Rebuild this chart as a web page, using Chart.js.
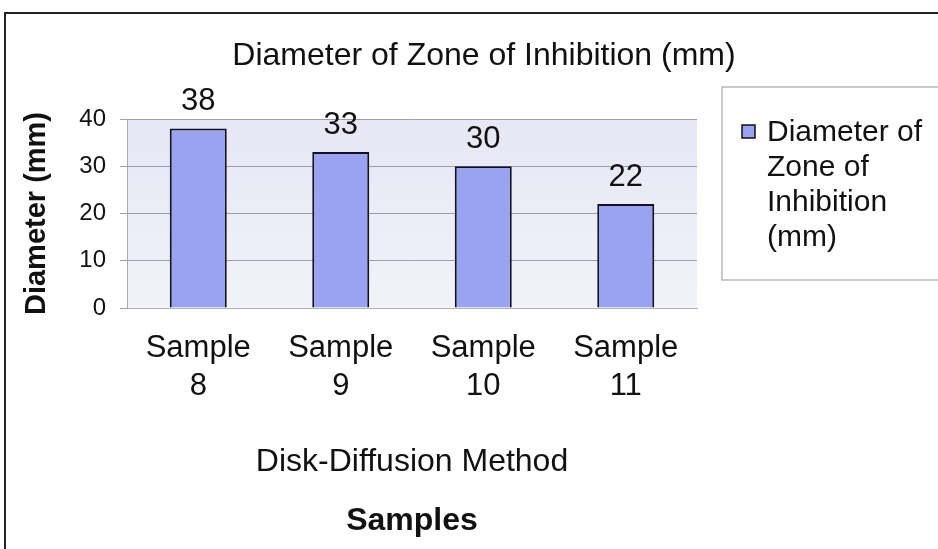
<!DOCTYPE html>
<html>
<head>
<meta charset="utf-8">
<script src="https://cdn.jsdelivr.net/npm/chart.js@4.4.1/dist/chart.umd.min.js"></script>
<style>
html,body{margin:0;padding:0;background:#fff;}
#wrap{width:938px;height:549px;position:relative;}
</style>
</head>
<body>
<div id="wrap"><canvas id="c" width="938" height="549"></canvas></div>
<script>
const categories = [['Sample', '8'], ['Sample', '9'], ['Sample', '10'], ['Sample', '11']];
const values = [38, 33, 30, 22];
const seriesName = 'Diameter of Zone of Inhibition (mm)';
const legendLines = ['Diameter of', 'Zone of', 'Inhibition', '(mm)'];
const chartTitle = 'Diameter of Zone of Inhibition (mm)';
const xTitle = 'Disk-Diffusion Method';
const xTitle2 = 'Samples';
const yTitle = 'Diameter (mm)';
const yTicks = [0, 10, 20, 30, 40];

const FONT = "'Liberation Sans', Arial, sans-serif";

const decor = {
  id: 'decor',
  beforeDraw(chart) {
    const {ctx, chartArea: a} = chart;
    ctx.save();
    const g = ctx.createLinearGradient(0, a.top, 0, a.bottom);
    g.addColorStop(0, '#e7e7f5');
    g.addColorStop(1, '#f2f2f9');
    ctx.fillStyle = g;
    ctx.fillRect(a.left, a.top, a.right - a.left, a.bottom - a.top);
    ctx.restore();
  },
  afterDraw(chart) {
    const {ctx} = chart;
    ctx.save();
    // outer frame
    ctx.strokeStyle = '#222';
    ctx.lineWidth = 2;
    ctx.beginPath();
    ctx.moveTo(938, 13); ctx.lineTo(5, 13); ctx.lineTo(5, 549);
    ctx.stroke();
    // title
    ctx.fillStyle = '#111';
    ctx.font = '32px ' + FONT;
    ctx.textAlign = 'center';
    ctx.textBaseline = 'middle';
    ctx.fillText(chartTitle, 484, 56);
    // legend box
    ctx.strokeStyle = '#b8b8b8';
    ctx.lineWidth = 1.5;
    ctx.beginPath();
    ctx.moveTo(940, 87); ctx.lineTo(722, 87); ctx.lineTo(722, 280); ctx.lineTo(940, 280);
    ctx.stroke();
    const ds = chart.data.datasets[0];
    ctx.fillStyle = ds.backgroundColor;
    ctx.fillRect(742, 125, 13, 13);
    ctx.strokeStyle = '#111';
    ctx.lineWidth = 1.5;
    ctx.strokeRect(742, 125, 13, 13);
    ctx.fillStyle = '#111';
    ctx.font = '30px ' + FONT;
    ctx.textAlign = 'left';
    legendLines.forEach((t, i) => ctx.fillText(t, 767, 133 + i * 35));
    // data labels
    const meta = chart.getDatasetMeta(0);
    ctx.font = '31px ' + FONT;
    ctx.textAlign = 'center';
    meta.data.forEach((bar, i) => {
      ctx.fillText(String(ds.data[i]), bar.x, bar.y - 27);
    });
    ctx.restore();
  }
};

new Chart(document.getElementById('c'), {
  type: 'bar',
  data: {
    labels: categories,
    datasets: [{
      label: seriesName,
      data: values,
      backgroundColor: '#99a3ef',
      borderColor: '#111122',
      borderWidth: 2,
      categoryPercentage: 1,
      barPercentage: 0.4
    }]
  },
  options: {
    responsive: false,
    animation: false,
    devicePixelRatio: 1,
    layout: {padding: {left: 0, right: 241, top: 119, bottom: 0}},
    plugins: {
      legend: {display: false},
      tooltip: {enabled: false},
      title: {display: false},
      subtitle: {
        display: true,
        text: xTitle2,
        position: 'bottom',
        fullSize: false,
        color: '#111',
        font: {family: FONT, size: 32, weight: 'bold', lineHeight: 1.2},
        padding: {top: 0, bottom: 9}
      }
    },
    scales: {
      x: {
        grid: {display: false},
        border: {display: true, color: '#b0b0bc', width: 1},
        ticks: {
          color: '#111',
          font: {family: FONT, size: 31, lineHeight: 1.22},
          padding: 14,
          maxRotation: 0,
          autoSkip: false
        },
        title: {
          display: true,
          text: xTitle,
          color: '#111',
          font: {family: FONT, size: 32, lineHeight: 1.2},
          padding: {top: 0, bottom: 20}
        },
        afterFit(s) { s.height = 193.6; }
      },
      y: {
        min: 0,
        max: 40,
        afterBuildTicks(s) { s.ticks = yTicks.map(v => ({value: v})); },
        grid: {color: '#9c9cab', lineWidth: 1, tickLength: 7, drawTicks: true},
        border: {display: true, color: '#a8a8b8', width: 1},
        ticks: {
          color: '#111',
          font: {family: FONT, size: 24},
          padding: 14
        },
        title: {
          display: true,
          text: yTitle,
          color: '#111',
          font: {family: FONT, size: 29, weight: 'bold', lineHeight: 1.2},
          padding: {top: 20, bottom: 0}
        },
        afterFit(s) { s.width = 127; }
      }
    }
  },
  plugins: [decor]
});
</script>
</body>
</html>
